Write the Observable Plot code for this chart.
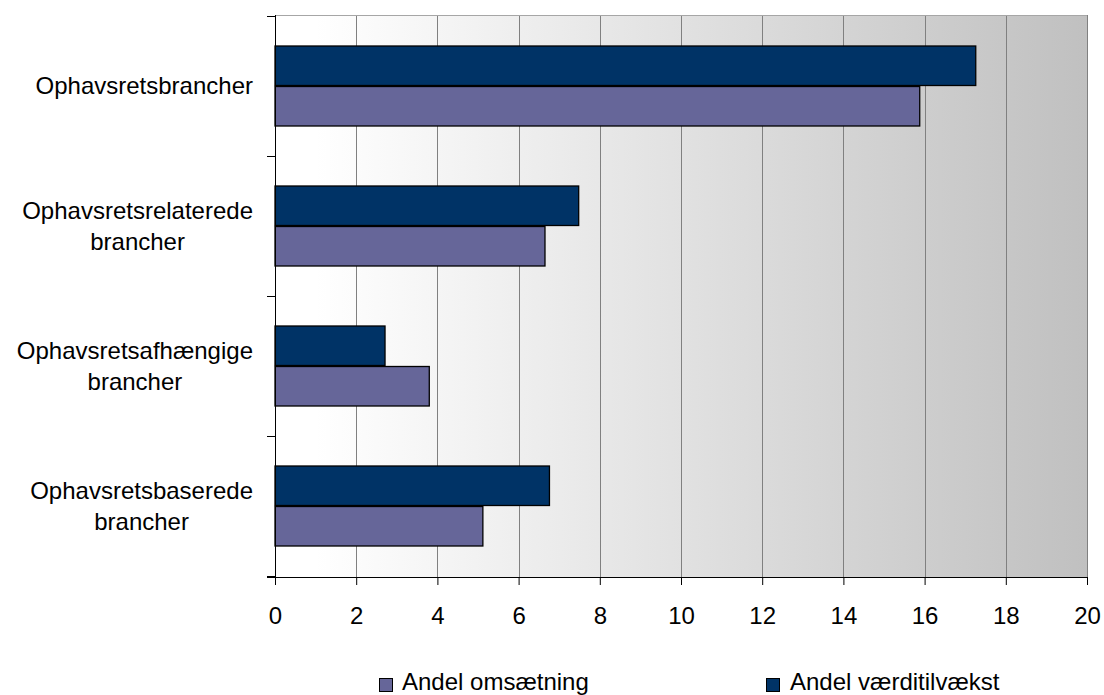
<!DOCTYPE html>
<html>
<head>
<meta charset="utf-8">
<script src="https://cdn.jsdelivr.net/npm/d3@7"></script>
<script src="https://cdn.jsdelivr.net/npm/@observablehq/plot@0.6"></script>
<style>
  html, body { margin: 0; padding: 0; background: white; }
  #wrap { width: 1104px; height: 695px; position: relative; font-family: "Liberation Sans", Arial, sans-serif; }
  #legend { position: relative; width: 1104px; height: 45px; }
  .sw { position: absolute; width: 12px; height: 12px; border: 1px solid black; top: 28px; }
  .lt { position: absolute; top: 18px; font-size: 24px; line-height: 28px; color: black; white-space: nowrap; }
</style>
</head>
<body>
<div id="wrap"></div>
<script>
const categories = ["Ophavsretsbrancher", "Ophavsretsrelaterede brancher", "Ophavsretsafhængige brancher", "Ophavsretsbaserede brancher"];
const categoryLines = [["Ophavsretsbrancher"], ["Ophavsretsrelaterede", "brancher"], ["Ophavsretsafhængige", "brancher"], ["Ophavsretsbaserede", "brancher"]];
const andelOmsaetning = [15.88, 6.65, 3.8, 5.12];
const andelVaerditilvaekst = [17.26, 7.48, 2.71, 6.76];
const xTicks = [0, 2, 4, 6, 8, 10, 12, 14, 16, 18, 20];
const seriesNames = ["Andel omsætning", "Andel værditilvækst"];
const seriesColors = ["#666699", "#003366"];

const omsData = categories.map((c, i) => ({cat: c, v: andelOmsaetning[i]}));
const vaerdiData = categories.map((c, i) => ({cat: c, v: andelVaerditilvaekst[i]}));

const FONT = "Liberation Sans";

function background(index, scales, values, dims) {
  const g = d3.create("svg:g");
  const defs = g.append("defs");
  const lg = defs.append("linearGradient").attr("id", "bgGrad").attr("x1", "0").attr("x2", "1").attr("y1", "0").attr("y2", "0");
  lg.append("stop").attr("offset", "0").attr("stop-color", "#ffffff");
  lg.append("stop").attr("offset", "0.05").attr("stop-color", "#ffffff");
  lg.append("stop").attr("offset", "1").attr("stop-color", "#c0c0c0");
  const x0 = dims.marginLeft, x1 = dims.width - dims.marginRight;
  const y0 = dims.marginTop, y1 = dims.height - dims.marginBottom;
  g.append("rect").attr("x", x0).attr("y", y0).attr("width", x1 - x0).attr("height", y1 - y0).attr("fill", "url(#bgGrad)");
  return g.node();
}

function axesLines(index, scales, values, dims) {
  const g = d3.create("svg:g").attr("stroke", "black").attr("stroke-width", 1).attr("shape-rendering", "crispEdges");
  const x0 = dims.marginLeft, x1 = dims.width - dims.marginRight;
  const y0 = dims.marginTop, y1 = dims.height - dims.marginBottom;
  const y = scales.y;
  const bw = y.bandwidth ? y.bandwidth() : (y1 - y0) / categories.length;
  g.append("line").attr("x1", x0).attr("x2", x1).attr("y1", y0).attr("y2", y0).attr("stroke", "#a6a6a6");
  g.append("line").attr("x1", x1).attr("x2", x1).attr("y1", y0).attr("y2", y1).attr("stroke", "#808080");
  g.append("line").attr("x1", x0).attr("x2", x0).attr("y1", y0).attr("y2", y1);
  g.append("line").attr("x1", x0 - 8).attr("x2", x1).attr("y1", y1).attr("y2", y1);
  const bounds = categories.map(c => y(c)).concat([y(categories[categories.length - 1]) + bw]);
  for (const b of bounds) {
    g.append("line").attr("x1", x0 - 8).attr("x2", x0).attr("y1", b).attr("y2", b);
  }
  return g.node();
}

function catLabels(index, scales, values, dims) {
  const g = d3.create("svg:g").attr("font-family", FONT).attr("font-size", 24).attr("fill", "black");
  const y = scales.y;
  const bw = y.bandwidth ? y.bandwidth() : 140;
  const ctx = document.createElement("canvas").getContext("2d");
  ctx.font = `24px "${FONT}"`;
  const right = dims.marginLeft - 22;
  const lh = 31;
  categories.forEach((c, i) => {
    const lines = categoryLines[i];
    const cy = y(c) + bw / 2;
    if (lines.length === 1) {
      g.append("text").attr("x", right).attr("y", cy).attr("dy", "0.35em").attr("text-anchor", "end").text(lines[0]);
    } else {
      const w = ctx.measureText(lines[0]).width;
      const cx = right - w / 2;
      lines.forEach((t, k) => {
        g.append("text").attr("x", cx).attr("y", cy + (k - (lines.length - 1) / 2) * lh).attr("dy", "0.35em").attr("text-anchor", "middle").text(t);
      });
    }
  });
  return g.node();
}

const chart = Plot.plot({
  width: 1104,
  height: 650,
  marginTop: 15,
  marginBottom: 73,
  marginLeft: 275,
  marginRight: 17,
  style: {fontFamily: FONT, fontSize: "24px", background: "white", overflow: "visible", color: "black"},
  x: {domain: [0, 20], ticks: xTicks, label: null},
  y: {domain: categories, padding: 0, axis: null, label: null},
  marks: [
    background,
    Plot.ruleX(xTicks.slice(1, -1), {stroke: "#808080", strokeWidth: 1, shapeRendering: "crispEdges"}),
    Plot.barX(vaerdiData, {y: "cat", x: "v", fill: seriesColors[1], stroke: "black", strokeWidth: 1.3, insetTop: 30, insetBottom: 70.5}),
    Plot.barX(omsData, {y: "cat", x: "v", fill: seriesColors[0], stroke: "black", strokeWidth: 1.3, insetTop: 70.5, insetBottom: 30}),
    axesLines,
    Plot.axisX({ticks: xTicks, tickSize: 8, tickPadding: 21, fontSize: 24, stroke: "black", label: null, tickFormat: d => String(d)}),
    catLabels
  ]
});

const wrap = document.getElementById("wrap");
wrap.appendChild(chart);
const legend = document.createElement("div");
legend.id = "legend";
const legendPos = [[379, 402], [766, 790]];
seriesNames.forEach((n, i) => {
  const sw = document.createElement("div");
  sw.className = "sw";
  sw.style.left = legendPos[i][0] + "px";
  sw.style.background = seriesColors[i];
  legend.appendChild(sw);
  const t = document.createElement("div");
  t.className = "lt";
  t.style.left = legendPos[i][1] + "px";
  t.textContent = n;
  legend.appendChild(t);
});
wrap.appendChild(legend);
</script>
</body>
</html>
